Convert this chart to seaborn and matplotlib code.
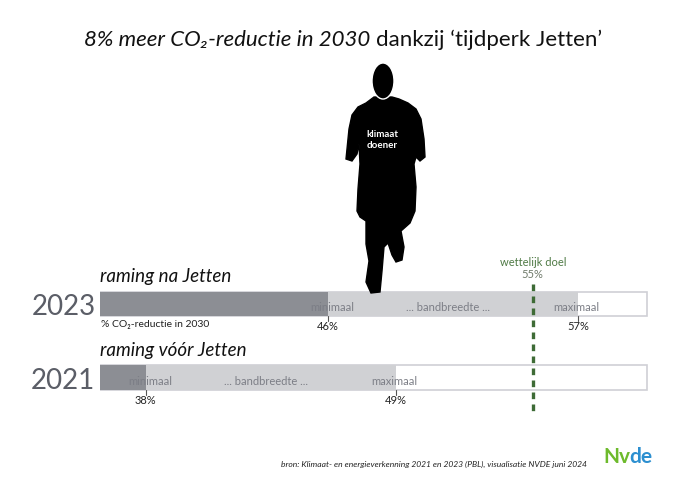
import numpy as np
import pandas as pd
import matplotlib
matplotlib.use("Agg")
import matplotlib.pyplot as plt
from matplotlib.patches import Polygon, Ellipse
import seaborn as sns

sns.set_style("white")
plt.rcParams['font.family'] = ['Lato', 'DejaVu Sans']

# data
years = ['2023', '2021']
row_titles = ['raming na Jetten', 'raming vóór Jetten']
minimum = [46, 38]
maximum = [57, 49]
axis_start = 36
axis_end = 60
target = 55

DARK = '#8b8d95'
LIGHT = '#cfd0d5'
TXT = '#7c7e86'

W, H = 680, 481
fig = plt.figure(figsize=(W / 100, H / 100), dpi=100)

# bar axes: start of the drawn range at x=100 px, end at x=648 px
top_px, bot_px = 255, 425
ax = fig.add_axes([100 / W, 1 - bot_px / H, 548 / W, (bot_px - top_px) / H])

df = pd.DataFrame({'jaar': years, 'min': minimum, 'max': maximum,
                   'eind': [axis_end] * len(years)})

sns.barplot(data=df, y='jaar', x='eind', orient='h', color='white',
            edgecolor=LIGHT, linewidth=1.2, width=0.33, ax=ax, order=years)
sns.barplot(data=df, y='jaar', x='max', orient='h', color=LIGHT,
            linewidth=0, width=0.33, ax=ax, order=years)
sns.barplot(data=df, y='jaar', x='min', orient='h', color=DARK,
            linewidth=0, width=0.33, ax=ax, order=years)
for p in ax.patches:
    p.set_alpha(1)

ax.set_xlim(axis_start, axis_end + 0.06)
ax.set_ylim(1 + 46.5 / 73.5, -50 / 73.5)
ax.axis('off')

for i, (yr, ttl, lo, hi) in enumerate(zip(years, row_titles, minimum, maximum)):
    ax.text(axis_start - 0.2, i + 0.03, yr, ha='right', va='center',
            fontsize=20, color='#5b5e67')
    ax.text(axis_start, i - 0.27, ttl, ha='left', va='bottom', fontsize=13.5,
            style='italic', color='#111111')
    ax.text(lo + 0.2, i + 0.04, 'minimaal', ha='center', va='center',
            fontsize=8, color=TXT)
    ax.text(hi - 0.1, i + 0.04, 'maximaal', ha='center', va='center',
            fontsize=8, color=TXT)
    ax.text((lo + hi) / 2 - 0.2, i + 0.04, '... bandbreedte ...', ha='center',
            va='center', fontsize=8, color=TXT)
    for v in (lo, hi):
        ax.plot([v, v], [i + 0.165, i + 0.235], color='#555555', lw=0.8)
        ax.text(v, i + 0.22, f'{v}%', ha='center', va='top', fontsize=8,
                color='#222222')

ax.text(axis_start + 0.05, 0.2, '% CO\u2082-reductie in 2030', ha='left',
        va='top', fontsize=7.5, color='#222222')

# statutory target line
ax.vlines(target, -0.272, 1.497, colors='#3e6b36', linestyles=(0, (2, 1.6)),
          lw=2.4)
ax.text(target, -0.5, 'wettelijk doel', ha='center', va='bottom', fontsize=8,
        color='#4f7a45')
ax.text(target, -0.34, f'{target}%', ha='center', va='bottom', fontsize=8,
        color='#6f7a6a')

# title: italic part followed by upright part
t1 = fig.text(84 / W, 1 - 40 / H, '8% meer CO\u2082-reductie in 2030', ha='left',
              va='center', fontsize=16, style='italic', color='#111111')
fig.canvas.draw()
bb = t1.get_window_extent()
fig.text((bb.x1 + 6) / W, 1 - 40 / H, 'dankzij \u2018tijdperk Jetten\u2019',
         ha='left', va='center', fontsize=16, color='#111111')


# runner silhouette (decoration)
def px(pts):
    return [(x / W, 1 - y / H) for x, y in pts]


body = [(374, 98), (366, 104), (358, 108), (352, 116), (349, 130), (347, 150),
        (346, 160), (352, 162), (357, 155), (359, 145), (360, 165), (358, 190),
        (357, 212), (360, 218), (366, 222), (366, 245), (369, 262), (366, 283),
        (371, 294), (380, 293), (382, 272), (384, 248), (388, 244), (392, 256),
        (396, 263), (402, 261), (404, 248), (401, 232), (410, 224), (415, 212),
        (416, 188), (414, 165), (416, 158), (420, 162), (425, 158), (424, 140),
        (421, 120), (416, 110), (408, 104), (399, 100), (392, 98)]
fig.patches.append(Polygon(px(body), closed=True, transform=fig.transFigure,
                           facecolor='black', edgecolor='black'))
fig.patches.append(Ellipse((383 / W, 1 - 82 / H), 22 / W, 36 / H,
                           transform=fig.transFigure, facecolor='black'))
fig.text(382 / W, 1 - 140 / H, 'klimaat\ndoener', ha='center', va='center',
         fontsize=7, color='white', fontweight='bold', linespacing=1.4)

# footer
fig.text(587 / W, 1 - 464 / H,
         'bron: Klimaat- en energieverkenning 2021 en 2023 (PBL), visualisatie NVDE juni 2024',
         ha='right', va='center', fontsize=6.1, style='italic', color='#222222')
fig.text(603 / W, 1 - 457 / H, 'Nv', ha='left', va='center', fontsize=15,
         color='#6dba2c', fontweight='bold')
fig.text(629 / W, 1 - 457 / H, 'de', ha='left', va='center', fontsize=15,
         color='#2c8fd0', fontweight='bold')

fig.savefig('out.png', dpi=100)
